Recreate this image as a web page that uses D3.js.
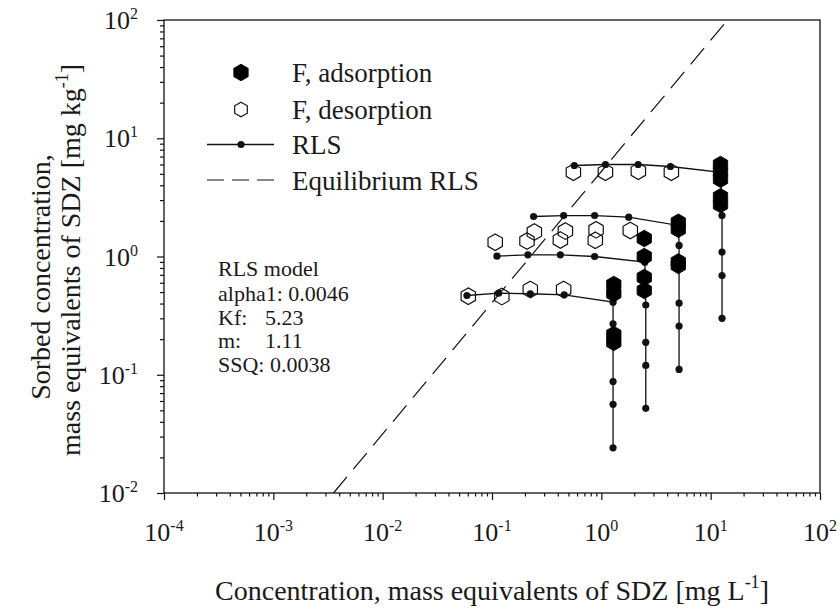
<!DOCTYPE html>
<html><head><meta charset="utf-8">
<script src="https://cdn.jsdelivr.net/npm/d3@7"></script>
<style>
body{margin:0;background:#fff}
text{font-family:"Liberation Serif","Times New Roman",serif;fill:#1a1a1a}
</style>
</head><body>
<svg id="chart" width="840" height="612"></svg>
<script>
// ---------- data ----------
const xTickExps = [-4, -3, -2, -1, 0, 1, 2];
const yTickExps = [-2, -1, 0, 1, 2];

// RLS model curves: [C, S] (vertical adsorption branch, then desorption branch)
const rlsA = [[12.7,0.30],[12.7,0.69],[12.7,1.09],[12.7,2.22],[12.4,5.15],[4.28,5.77],[2.17,6.0],[1.09,6.0],[0.566,5.88]];
const rlsB = [[5.14,0.111],[5.14,0.258],[5.14,0.403],[5.14,1.24],[5.08,1.83],[1.78,2.15],[0.868,2.22],[0.452,2.22],[0.240,2.18]];
const rlsC = [[2.55,0.052],[2.55,0.12],[2.55,0.188],[2.55,0.389],[2.5,0.895],[0.868,1.0],[0.422,1.034],[0.213,1.034],[0.111,1.006]];
const rlsD = [[1.28,0.0241],[1.28,0.0562],[1.28,0.0877],[1.28,0.27],[1.28,0.411],[0.458,0.474],[0.224,0.484],[0.115,0.49],[0.059,0.468]];
const rlsCurves = [rlsA, rlsB, rlsC, rlsD];

// F, adsorption (filled hexagons)
const adsorption = [
  [12.3,6.0],[12.3,5.2],[12.3,4.5],[12.3,3.2],[12.3,2.75],
  [5.06,1.95],[5.06,1.70],[5.06,0.90],[5.06,0.84],
  [2.47,1.42],[2.47,1.0],[2.47,0.665],[2.47,0.516],
  [1.30,0.58],[1.30,0.486],[1.30,0.219],[1.30,0.188]
];
// F, desorption (open hexagons)
const desorption = [
  [0.555,5.16],[1.09,5.16],[2.18,5.27],[4.37,5.16],
  [0.244,1.61],[0.469,1.64],[0.895,1.68],[1.84,1.66],
  [0.107,1.32],[0.209,1.35],[0.422,1.38],[0.881,1.37],
  [0.0607,0.462],[0.123,0.458],[0.224,0.526],[0.452,0.526]
];
// Equilibrium RLS line end points
const equilibrium = [[0.00355,0.01],[14.28,100]];

const legendLabels = ["F, adsorption", "F, desorption", "RLS", "Equilibrium RLS"];
const modelText = [["RLS model",""],["alpha1: 0.0046",""],["Kf:","5.23"],["m:","1.11"],["SSQ:","0.0038"]];
const xTitle = ["Concentration, mass equivalents of SDZ [mg L", "-1", "]"];
const yTitle1 = "Sorbed concentration,";
const yTitle2 = ["mass equivalents of SDZ [mg kg", "-1", "]"];

// ---------- drawing ----------
const svg = d3.select("#chart");
const L = 164, R = 820, T = 20, B = 493;
const x = d3.scaleLog().domain([1e-4, 1e2]).range([L, R]);
const y = d3.scaleLog().domain([1e-2, 1e2]).range([B, T]);

const ink = "#111";
const minorsOf = (exps) => {
  const v = [];
  for (let i = 0; i < exps.length - 1; i++)
    for (let k = 2; k <= 9; k++) v.push(k * Math.pow(10, exps[i]));
  return v;
};
const majX = xTickExps.map(e => Math.pow(10, e));
const majY = yTickExps.map(e => Math.pow(10, e));

// axes
function styleAxis(g) {
  g.select(".domain").remove();
  g.selectAll(".tick line").attr("stroke", ink).attr("stroke-width", 1.2);
  g.selectAll(".tick text").remove();
}
svg.append("g").attr("transform", `translate(0,${B})`)
  .call(d3.axisBottom(x).tickValues(majX).tickSize(7)).call(styleAxis);
svg.append("g").attr("transform", `translate(0,${B})`)
  .call(d3.axisBottom(x).tickValues(minorsOf(xTickExps)).tickSize(3.5)).call(styleAxis);
svg.append("g").attr("transform", `translate(${L},0)`)
  .call(d3.axisLeft(y).tickValues(majY).tickSize(7)).call(styleAxis);
svg.append("g").attr("transform", `translate(${L},0)`)
  .call(d3.axisLeft(y).tickValues(minorsOf(yTickExps)).tickSize(4)).call(styleAxis);

// frame
svg.append("rect").attr("x", L).attr("y", T).attr("width", R - L).attr("height", B - T)
  .attr("fill", "none").attr("stroke", ink).attr("stroke-width", 1.3);

// tick labels
const tickFs = 26, supFs = 16;
xTickExps.forEach(e => {
  const t = svg.append("text").attr("x", x(Math.pow(10, e))).attr("y", 541)
    .attr("text-anchor", "middle").attr("font-size", tickFs);
  t.append("tspan").text("10");
  t.append("tspan").attr("font-size", supFs).attr("dy", -10).text(String(e));
});
yTickExps.forEach(e => {
  const t = svg.append("text").attr("x", 138).attr("y", y(Math.pow(10, e)) + 9)
    .attr("text-anchor", "end").attr("font-size", tickFs);
  t.append("tspan").text("10");
  t.append("tspan").attr("font-size", supFs).attr("dy", -10).text(String(e));
});

// axis titles
const titleFs = 28;
{
  const t = svg.append("text").attr("x", (L + R) / 2).attr("y", 600)
    .attr("text-anchor", "middle").attr("font-size", titleFs);
  t.append("tspan").text(xTitle[0]);
  t.append("tspan").attr("font-size", 18).attr("dy", -12).text(xTitle[1]);
  t.append("tspan").attr("dy", 12).text(xTitle[2]);
}
{
  svg.append("text").attr("transform", "translate(50,277) rotate(-90)")
    .attr("text-anchor", "middle").attr("font-size", titleFs).text(yTitle1);
  const t2 = svg.append("text").attr("transform", "translate(80,260) rotate(-90)")
    .attr("text-anchor", "middle").attr("font-size", titleFs);
  t2.append("tspan").text(yTitle2[0]);
  t2.append("tspan").attr("font-size", 18).attr("dy", -12).text(yTitle2[1]);
  t2.append("tspan").attr("dy", 12).text(yTitle2[2]);
}

// equilibrium dashed line
const line = d3.line().x(d => x(d[0])).y(d => y(d[1]));
svg.append("path").datum(equilibrium).attr("d", line)
  .attr("fill", "none").attr("stroke", ink).attr("stroke-width", 1.2)
  .attr("stroke-dasharray", "21,10");

// hexagon path
function hexPath(r) {
  const pts = d3.range(6).map(i => {
    const a = (Math.PI / 3) * i - Math.PI / 2;
    return [r * Math.cos(a), r * Math.sin(a)];
  });
  return "M" + pts.map(p => p.join(",")).join("L") + "Z";
}
const hexR = 8.3;

// RLS curves
rlsCurves.forEach(c => {
  svg.append("path").datum(c).attr("d", line)
    .attr("fill", "none").attr("stroke", ink).attr("stroke-width", 1.3);
  svg.append("g").selectAll("circle").data(c).join("circle")
    .attr("cx", d => x(d[0])).attr("cy", d => y(d[1])).attr("r", 3.6).attr("fill", ink);
});

// desorption (open)
svg.append("g").selectAll("path").data(desorption).join("path")
  .attr("transform", d => `translate(${x(d[0])},${y(d[1])})`)
  .attr("d", hexPath(hexR)).attr("fill", "none").attr("stroke", ink).attr("stroke-width", 1.2);
// adsorption (filled)
svg.append("g").selectAll("path").data(adsorption).join("path")
  .attr("transform", d => `translate(${x(d[0])},${y(d[1])})`)
  .attr("d", hexPath(hexR)).attr("fill", "#000").attr("stroke", "#000").attr("stroke-width", 0.8);

// legend
const legFs = 27;
const legRows = [72.5, 109.5, 144.5, 180];
const lgX0 = 207, lgX1 = 274, lgXc = 241, lgTx = 292;
svg.append("path").attr("transform", `translate(${lgXc},${legRows[0]})`).attr("d", hexPath(hexR))
  .attr("fill", "#000").attr("stroke", "#000").attr("stroke-width", 0.8);
svg.append("path").attr("transform", `translate(${lgXc},${legRows[1]})`).attr("d", hexPath(hexR * 0.88))
  .attr("fill", "none").attr("stroke", ink).attr("stroke-width", 1.2);
svg.append("line").attr("x1", lgX0).attr("x2", lgX1).attr("y1", legRows[2]).attr("y2", legRows[2])
  .attr("stroke", ink).attr("stroke-width", 1.3);
svg.append("circle").attr("cx", lgXc).attr("cy", legRows[2]).attr("r", 3.6).attr("fill", ink);
svg.append("line").attr("x1", lgX0).attr("x2", lgX1).attr("y1", legRows[3]).attr("y2", legRows[3])
  .attr("stroke", ink).attr("stroke-width", 1.2).attr("stroke-dasharray", "17,8");
legendLabels.forEach((s, i) => {
  svg.append("text").attr("x", lgTx).attr("y", legRows[i] + 9.5).attr("font-size", legFs).text(s);
});

// model annotation
const annFs = 22;
const annY = [276, 300.5, 324.5, 348, 372];
const annValX = [0, 0, 265, 265, 270];
modelText.forEach((r, i) => {
  svg.append("text").attr("x", 218).attr("y", annY[i]).attr("font-size", annFs).text(r[0]);
  if (r[1]) svg.append("text").attr("x", annValX[i]).attr("y", annY[i]).attr("font-size", annFs).text(r[1]);
});
</script>
</body></html>
